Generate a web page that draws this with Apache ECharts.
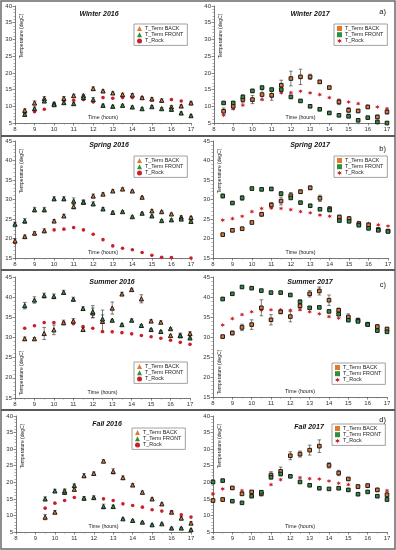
<!DOCTYPE html>
<html><head><meta charset="utf-8">
<script src="https://cdn.jsdelivr.net/npm/echarts@6/dist/echarts.min.js"></script>
<style>html,body{margin:0;padding:0;background:#fff}#c{width:396px;height:550px}</style>
</head><body><div id="c"></div>
<script>
// ---------- DATA ----------
const hours = [8, 8.5, 9, 9.5, 10, 10.5, 11, 11.5, 12, 12.5, 13, 13.5, 14, 14.5, 15, 15.5, 16, 16.5, 17];
const xTicks = [8, 9, 10, 11, 12, 13, 14, 15, 16, 17];
const seriesNames = ['T_Term BACK', 'T_Term FRONT', 'T_Rock'];
const panelTitles = ['Winter 2016', 'Winter 2017', 'Spring 2016', 'Spring 2017', 'Summer 2016', 'Summer 2017', 'Fall 2016', 'Fall 2017'];
const panelLetters = ['a)', 'b)', 'c)', 'd)'];
const yMins = [5, 5, 15, 15, 15, 15, 5, 5];
const yMaxs = [40, 40, 45, 45, 45, 45, 40, 40];

// Winter 2016
const w16Back     = [null, 8.8, 11.0, 12.3, 10.8, 12.4, 13.2, 13.2, 15.3, 14.6, 14.0, 13.5, 13.4, 12.6, 12.2, 11.8, 9.8, 10.1, 11.0];
const w16BackErr  = [null, 0.4, 0.6, 0.6, 0.4, 0.5, 0.4, 0.4, 0.5, 0.3, 0.3, 0.4, 0.4, 0.3, 0.4, 0.4, 0.4, 0.3, 0.5];
const w16Front    = [null, 7.6, 9.3, 11.6, 10.5, 11.1, 10.8, 12.6, 12.0, 10.3, 10.0, 10.3, 9.8, 9.3, 9.9, 9.3, 9.1, 8.0, 7.2];
const w16FrontErr = [null, 0.4, 0.5, 0.5, 0.4, 0.4, 0.4, 0.5, 0.6, 0.3, 0.3, 0.3, 0.3, 0.3, 0.3, 0.3, 0.4, 0.3, 0.3];
const w16Rock     = [null, 7.9, 8.4, 9.1, 10.6, 11.8, 11.8, 12.0, 11.3, 12.6, 12.4, 12.6, 12.6, 12.5, 11.8, 11.5, 12.0, 11.6, 10.8];
// Winter 2017
const w17Back     = [null, 8.5, 10.0, 12.0, 12.0, 13.5, 13.3, 16.3, 18.3, 18.8, 18.8, 17.3, 15.6, 11.3, 8.8, 8.6, 9.8, 6.8, 8.3];
const w17BackErr  = [null, 1.0, 1.0, 1.0, 1.2, 1.5, 1.5, 1.5, 2.2, 2.3, 0.8, 0.5, 0.4, 0.8, 0.8, 0.5, 0.5, 0.6, 0.6];
const w17Front    = [null, 11.0, 11.0, 12.8, 14.6, 15.6, 15.0, 15.0, 12.8, 11.6, 10.0, 9.1, 8.0, 7.3, 7.0, 5.8, 6.6, 5.3, 5.0];
const w17FrontErr = [null, 0.4, 0.4, 0.6, 0.5, 0.4, 0.4, 0.5, 0.5, 0.4, 0.3, 0.3, 0.3, 0.3, 0.3, 0.3, 0.3, 0.3, 0.3];
const w17Rock     = [null, 7.3, 9.3, 10.3, 11.6, 12.0, 12.8, 14.0, 14.1, 14.5, 14.0, 13.5, 12.6, 11.8, 11.3, 10.8, 10.0, 9.8, 9.3];
// Spring 2016
const s16Back     = [19.4, 20.5, 21.4, 22.0, 24.5, 25.8, 28.2, 29.4, 30.9, 31.4, 32.2, 32.7, 32.2, 30.6, 27.1, 26.9, 26.3, 25.5, 25.4];
const s16BackErr  = [0.5, 0.4, 0.4, 0.5, 0.3, 0.4, 0.6, 0.5, 0.5, 0.3, 0.3, 0.3, 0.2, 0.2, 0.3, 0.2, 0.2, 0.3, 0.2];
const s16Front    = [23.7, 24.5, 27.4, 27.4, 30.2, 30.2, 29.6, 29.3, 28.9, 27.6, 26.7, 26.9, 25.6, 26.5, 25.8, 24.6, 24.8, 25.0, 24.4];
const s16FrontErr = [0.5, 0.6, 0.6, 0.6, 0.5, 0.5, 0.8, 0.4, 0.5, 0.3, 0.3, 0.2, 0.2, 0.2, 0.2, 0.2, 0.2, 0.2, 0.2];
const s16Rock     = [18.9, 20.3, 21.1, 21.8, 22.2, 22.4, 22.8, 22.2, 21.1, 19.7, 18.1, 17.5, 17.1, 16.4, 15.7, 15.2, 15.1, 14.9, 15.0];
// Spring 2017
const s17Back     = [null, 21.0, 22.1, 22.5, 24.1, 26.2, 28.6, 29.6, 31.0, 32.0, 33.0, 30.3, 27.6, 25.5, 25.1, 23.8, 23.5, 22.3, 21.9];
const s17BackErr  = [null, 0.3, 0.4, 0.4, 0.4, 0.5, 0.6, 1.0, 0.8, 0.5, 0.5, 0.8, 0.6, 0.5, 0.5, 0.5, 0.4, 0.4, 0.3];
const s17Front    = [null, 30.9, 29.1, 30.4, 32.8, 32.6, 32.7, 31.5, 30.4, 29.2, 28.4, 27.5, 27.3, 24.6, 24.4, 23.4, 22.6, 22.1, 21.8];
const s17FrontErr = [null, 0.5, 0.3, 0.6, 0.4, 0.4, 0.4, 0.5, 0.3, 0.3, 0.2, 0.2, 0.3, 0.3, 0.2, 0.2, 0.2, 0.2, 0.2];
const s17Rock     = [null, 24.7, 25.1, 25.7, 26.9, 27.7, 27.8, 27.7, 27.4, 26.9, 26.6, 26.0, 25.7, 25.0, 24.6, 24.1, 23.8, 23.5, 23.2];
// Summer 2016
const u16Back     = [null, 29.7, 29.7, 31.0, 31.9, 33.7, 34.1, 32.0, 36.1, 34.0, 37.3, 40.8, 41.9, 39.6, 34.1, 33.8, 30.5, 30.5, 31.0];
const u16BackErr  = [null, 0.4, 0.3, 1.5, 1.2, 0.6, 0.6, 0.5, 1.2, 2.8, 1.5, 0.4, 0.3, 1.0, 0.3, 0.3, 0.3, 0.6, 0.4];
const u16Front    = [null, 37.9, 39.3, 40.4, 40.2, 41.2, 39.5, 37.2, 36.4, 34.6, 34.3, 33.2, 34.3, 33.0, 32.0, 31.5, 32.2, 30.5, 29.9];
const u16FrontErr = [null, 0.8, 0.8, 0.6, 0.6, 0.5, 0.5, 0.4, 1.5, 1.0, 0.2, 0.2, 0.3, 0.2, 0.2, 0.2, 0.2, 0.3, 0.2];
const u16Rock     = [null, 32.3, 32.9, 33.7, 33.7, 33.7, 33.4, 32.7, 32.3, 31.5, 31.4, 31.2, 30.9, 30.5, 30.2, 29.8, 29.3, 28.8, 28.3];
// Summer 2017
const u17Back     = [null, 30.1, 31.0, 32.4, 33.1, 37.3, 34.3, 36.3, 35.1, 37.8, 40.8, 41.5, 39.2, 36.7, 35.0, 34.2, 33.2, 32.6, 32.0];
const u17BackErr  = [null, 0.3, 0.5, 0.8, 1.2, 2.0, 1.3, 0.5, 1.3, 1.2, 0.8, 1.0, 1.3, 0.5, 0.8, 0.5, 0.4, 0.5, 0.4];
const u17Front    = [null, 39.5, 40.8, 42.5, 42.2, 41.6, 41.1, 41.1, 40.5, 38.8, 37.3, 37.4, 36.4, 35.7, 34.2, 33.9, 33.1, 31.6, 31.3];
const u17FrontErr = [null, 0.4, 0.3, 0.3, 0.3, 0.3, 0.3, 0.3, 0.3, 0.5, 0.3, 0.3, 0.3, 0.3, 0.3, 0.3, 0.3, 0.3, 0.3];
const u17Rock     = [null, 33.0, 34.6, 35.6, 36.3, 36.7, 36.8, 36.8, 36.7, 36.9, 36.3, 35.8, 35.1, 34.7, 34.6, 34.0, 33.3, 32.4, 32.0];
// Fall 2016
const f16Back     = [null, null, null, 9.5, 11.0, 17.0, 17.9, 22.0, 22.7, 26.4, 23.3, 21.4, 19.2, 17.0, 15.0, 13.5, 11.0, 9.2, 7.7];
const f16BackErr  = [null, null, null, 0.8, 0.5, 0.7, 0.6, 0.6, 0.4, 0.4, 0.8, 0.5, 0.4, 0.4, 0.3, 0.3, 0.4, 0.4, 0.4];
const f16Front    = [null, null, null, 15.0, 17.4, 17.4, 19.0, 15.2, 15.4, 12.7, 12.7, 9.0, 8.5, 8.0, 7.2, 7.5, 6.2, 6.2, 5.7];
const f16FrontErr = [null, null, null, 0.6, 0.5, 0.6, 0.5, 0.5, 0.5, 0.7, 0.4, 0.2, 0.2, 0.2, 0.2, 0.2, 0.2, 0.2, 0.2];
const f16Rock     = [null, null, null, 12.2, 13.7, 14.5, 15.4, 15.0, 15.2, 15.0, 14.5, 13.5, 13.0, 12.5, 11.7, 11.3, 11.2, 10.2, 9.5];
// Fall 2017
const f17Back     = [14.5, 14.8, 18.3, 16.5, 17.1, 16.5, 22.2, 23.3, 28.0, 28.5, 29.7, 30.9, 25.1, 22.8, 21.0, 18.7, 19.0, 17.7, 16.2];
const f17BackErr  = [0.4, 0.6, 0.4, 0.4, 0.4, 0.6, 1.0, 1.3, 1.2, 0.9, 1.5, 1.9, 0.8, 0.8, 0.4, 0.6, 0.5, 0.5, 0.8];
const f17Front    = [20.1, 20.5, 14.3, 13.8, 15.8, 17.0, 21.5, 22.5, 21.8, 20.1, 19.1, 18.2, 18.0, 18.2, 17.7, 16.4, 17.1, 15.8, 14.8];
const f17FrontErr = [0.5, 0.4, 0.3, 0.3, 0.3, 0.5, 0.4, 0.4, 0.3, 0.3, 0.3, 0.3, 0.3, 0.3, 0.3, 0.3, 0.3, 0.3, 0.5];
const f17Rock     = [16.5, 18.0, 18.2, 17.5, 17.0, 16.5, 19.3, 20.8, 21.8, 21.4, 21.1, 21.0, 20.4, 19.7, 19.3, 18.5, 18.8, 17.8, 17.5];

const panelData = [
  [w16Back, w16BackErr, w16Front, w16FrontErr, w16Rock],
  [w17Back, w17BackErr, w17Front, w17FrontErr, w17Rock],
  [s16Back, s16BackErr, s16Front, s16FrontErr, s16Rock],
  [s17Back, s17BackErr, s17Front, s17FrontErr, s17Rock],
  [u16Back, u16BackErr, u16Front, u16FrontErr, u16Rock],
  [u17Back, u17BackErr, u17Front, u17FrontErr, u17Rock],
  [f16Back, f16BackErr, f16Front, f16FrontErr, f16Rock],
  [f17Back, f17BackErr, f17Front, f17FrontErr, f17Rock]
];

// ---------- LAYOUT / STYLE ----------
const layout = [
  {left:15,  top:6,   width:176, height:117, legL:134, legT:24,  titleX:99,  titleY:14,  yNameBottom:false},
  {left:214, top:6,   width:173, height:117, legL:334, legT:24,  titleX:310, titleY:14,  yNameBottom:false},
  {left:15,  top:141, width:176, height:117, legL:134, legT:156, titleX:109, titleY:145, yNameBottom:false},
  {left:213, top:141, width:175, height:117, legL:334, legT:156, titleX:310, titleY:145, yNameBottom:false},
  {left:15,  top:277, width:175, height:121, legL:134, legT:362, titleX:112, titleY:282, yNameBottom:true},
  {left:213, top:277, width:174, height:120, legL:332, legT:363, titleX:310, titleY:282, yNameBottom:true},
  {left:16,  top:416, width:175, height:116, legL:132, legT:428, titleX:107, titleY:424, yNameBottom:false},
  {left:213, top:416, width:174, height:116, legL:332, legT:424, titleX:309, titleY:427, yNameBottom:false}
];
const letterPos = [[386, 12], [386, 149], [386, 285], [386, 420]];
const colBack = '#e0782f', colFront = '#2f8f3c', colRock = '#c8202a';
const starPath = 'path://M5,0 L6.3,3.2 L9.8,2.5 L7.5,5 L9.8,7.5 L6.3,6.8 L5,10 L3.7,6.8 L0.2,7.5 L2.5,5 L0.2,2.5 L3.7,3.2 Z';
const FONT = '"Liberation Sans", Arial, sans-serif';

const grids = [], xAxes = [], yAxes = [], series = [], legends = [], graphics = [];

function pts(vals) {
  const out = [];
  hours.forEach((h, k) => { if (vals[k] != null) out.push([h, vals[k]]); });
  return out;
}
function errPts(vals, errs) {
  const out = [];
  hours.forEach((h, k) => { if (vals[k] != null && errs[k] != null) out.push([h, vals[k], errs[k]]); });
  return out;
}
function errRender(params, api) {
  const x = api.value(0), y = api.value(1), e = api.value(2);
  const t = api.coord([x, y + e]), b = api.coord([x, y - e]);
  const cw = 1.8;
  const st = {stroke: '#2a2a2a', lineWidth: 0.6};
  return {type: 'group', children: [
    {type: 'line', shape: {x1: t[0], y1: t[1], x2: b[0], y2: b[1]}, style: st},
    {type: 'line', shape: {x1: t[0] - cw, y1: t[1], x2: t[0] + cw, y2: t[1]}, style: st},
    {type: 'line', shape: {x1: b[0] - cw, y1: b[1], x2: b[0] + cw, y2: b[1]}, style: st}
  ]};
}

panelTitles.forEach((title, i) => {
  const L = layout[i];
  const is2017 = (i % 2 === 1);
  const termSym = is2017 ? 'rect' : 'triangle';
  const rockSym = is2017 ? starPath : 'circle';
  const [back, backErr, front, frontErr, rock] = panelData[i];

  grids.push({left: L.left, top: L.top, width: L.width, height: L.height, containLabel: false});
  xAxes.push({
    gridIndex: i, type: 'value', min: xTicks[0], max: xTicks[xTicks.length - 1], interval: 1,
    axisLine: {show: true, lineStyle: {color: '#555', width: 0.8}},
    axisTick: {show: true, length: 2.5, lineStyle: {color: '#555', width: 0.7}},
    minorTick: {show: true, splitNumber: 2, length: 1.5, lineStyle: {color: '#777', width: 0.6}},
    axisLabel: {fontSize: 6, color: '#333', margin: 3, fontFamily: FONT},
    splitLine: {show: false}
  });
  yAxes.push({
    gridIndex: i, type: 'value', min: yMins[i], max: yMaxs[i], interval: 5,
    axisLine: {show: true, lineStyle: {color: '#555', width: 0.8}},
    axisTick: {show: true, length: 2.5, lineStyle: {color: '#555', width: 0.7}},
    minorTick: {show: true, splitNumber: 5, length: 1.5, lineStyle: {color: '#777', width: 0.6}},
    axisLabel: {fontSize: 6, color: '#333', margin: 3, fontFamily: FONT},
    splitLine: {show: false}
  });

  series.push({type: 'custom', name: 'errB' + i, xAxisIndex: i, yAxisIndex: i, renderItem: errRender,
    encode: {x: 0, y: 1}, data: errPts(back, backErr), z: 2, silent: true});
  series.push({type: 'custom', name: 'errF' + i, xAxisIndex: i, yAxisIndex: i, renderItem: errRender,
    encode: {x: 0, y: 1}, data: errPts(front, frontErr), z: 2, silent: true});
  series.push({type: 'scatter', name: seriesNames[2], xAxisIndex: i, yAxisIndex: i, symbol: rockSym,
    symbolSize: is2017 ? 4.5 : 3.6, itemStyle: {color: colRock, opacity: 1}, data: pts(rock), z: 3, silent: true});
  series.push({type: 'scatter', name: seriesNames[0], xAxisIndex: i, yAxisIndex: i, symbol: termSym,
    symbolSize: is2017 ? 3.6 : 4.2, itemStyle: {color: colBack, borderColor: '#1a1a1a', borderWidth: 1, opacity: 1},
    data: pts(back), z: 4, silent: true});
  series.push({type: 'scatter', name: seriesNames[1], xAxisIndex: i, yAxisIndex: i, symbol: termSym,
    symbolSize: is2017 ? 3.6 : 4.2, itemStyle: {color: colFront, borderColor: '#1a1a1a', borderWidth: 1, opacity: 1},
    data: pts(front), z: 4, silent: true});

  legends.push({
    orient: 'vertical', left: L.legL, top: L.legT, selectedMode: false,
    backgroundColor: '#fff', borderColor: '#8a8a8a', borderWidth: 0.8, borderRadius: 0,
    padding: [2, 4, 2, 3], itemGap: 1.2, itemWidth: 5, itemHeight: 5,
    textStyle: {fontSize: 5.4, color: '#222', fontFamily: FONT, padding: [0, 0, 0, -2]},
    data: [
      {name: seriesNames[0], icon: termSym, itemStyle: {color: colBack, borderWidth: 0}},
      {name: seriesNames[1], icon: termSym, itemStyle: {color: colFront, borderWidth: 0}},
      {name: seriesNames[2], icon: rockSym, itemStyle: {color: colRock, borderWidth: 0}}
    ]
  });

  graphics.push({type: 'text', x: L.titleX, y: L.titleY, silent: true, z: 10,
    style: {text: title, font: 'italic bold 7px ' + FONT, fill: '#111', align: 'center', verticalAlign: 'middle',
      textAlign: 'center', textVerticalAlign: 'middle'}});
  const yc = L.yNameBottom ? (L.top + L.height - 25) : (L.top + 30);
  graphics.push({type: 'text', x: L.left + 7, y: yc, rotation: Math.PI / 2, silent: true, z: 10,
    style: {text: 'Temperature (degC)', font: '5px ' + FONT, fill: '#222', align: 'center', verticalAlign: 'middle',
      textAlign: 'center', textVerticalAlign: 'middle'}});
  graphics.push({type: 'text', x: L.left + L.width / 2, y: L.top + L.height - 5, silent: true, z: 10,
    style: {text: 'Time (hours)', font: '5.3px ' + FONT, fill: '#222', align: 'center', verticalAlign: 'middle',
      textAlign: 'center', textVerticalAlign: 'middle'}});
});

panelLetters.forEach((t, r) => {
  graphics.push({type: 'text', x: letterPos[r][0], y: letterPos[r][1], silent: true, z: 10,
    style: {text: t, font: '7.5px ' + FONT, fill: '#111', align: 'right', verticalAlign: 'middle',
      textAlign: 'right', textVerticalAlign: 'middle'}});
});

graphics.push({type: 'rect', shape: {x: 1, y: 1, width: 394, height: 548}, style: {fill: null, stroke: '#6a6a6a', lineWidth: 1.5}, silent: true, z: 20});
[136, 270, 410].forEach(yy => {
  graphics.push({type: 'line', shape: {x1: 1, y1: yy, x2: 395, y2: yy}, style: {stroke: '#5a5a5a', lineWidth: 2}, silent: true, z: 20});
});

const chart = echarts.init(document.getElementById('c'), null, {renderer: 'canvas'});
chart.setOption({
  animation: false,
  backgroundColor: '#fff',
  textStyle: {fontFamily: FONT},
  grid: grids, xAxis: xAxes, yAxis: yAxes, series: series, legend: legends, graphic: graphics
});
</script></body></html>
